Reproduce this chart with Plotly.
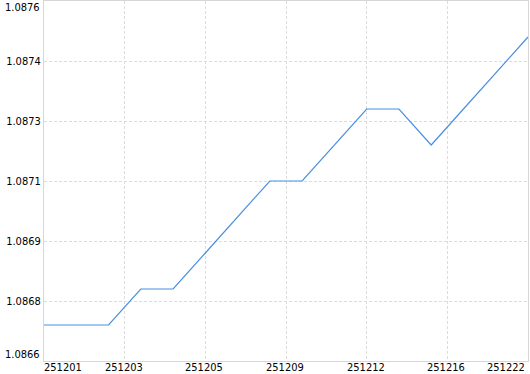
import plotly.graph_objects as go

# Data
point_index = list(range(16))
values = [1.0867, 1.0867, 1.0867, 1.0868, 1.0868, 1.0869, 1.0870, 1.0871,
          1.0871, 1.0872, 1.0873, 1.0873, 1.0872, 1.0873, 1.0874, 1.0875]
x_tick_pos = [0, 2.5, 5, 7.5, 10, 12.5, 15]
x_tick_labels = ["251201", "251203", "251205", "251209", "251212", "251216", "251222"]
y_min, y_max = 1.0866, 1.0876
y_tick_vals = [y_min + k * (y_max - y_min) / 6 for k in range(7)]
y_tick_labels = ["%.4f" % v for v in y_tick_vals]

font = dict(family="DejaVu Sans Condensed, DejaVu Sans, sans-serif", size=11, color="#000000")

fig = go.Figure()
fig.add_trace(go.Scatter(x=point_index, y=values, mode="lines",
                         line=dict(color="#4a8fe0", width=1.2), hoverinfo="skip"))

# y: middle labels via ticks, end labels via annotations (aligned inward)
yt = [t if 0 < i < len(y_tick_labels) - 1 else "" for i, t in enumerate(y_tick_labels)]

fig.update_layout(
    width=530, height=374,
    margin=dict(l=44, r=2, t=1, b=13, autoexpand=False),
    paper_bgcolor="white", plot_bgcolor="white",
    showlegend=False,
    font=font,
    xaxis=dict(range=[0, 15], tickmode="array", tickvals=x_tick_pos,
               ticktext=[""] * len(x_tick_pos),
               showgrid=True, gridcolor="#dcdcdc", griddash="3px,2px", gridwidth=1,
               showline=True, linecolor="#d6d6d6", linewidth=1, mirror=True,
               zeroline=False, ticks="", tickfont=font, fixedrange=True,
               automargin=False),
    yaxis=dict(range=[y_min, y_max], tickmode="array", tickvals=y_tick_vals, ticktext=yt,
               showgrid=True, gridcolor="#dcdcdc", griddash="3px,2px", gridwidth=1,
               showline=True, linecolor="#d6d6d6", linewidth=1, mirror=True,
               zeroline=False, ticks="", tickfont=font, fixedrange=True,
               automargin=False),
)

anns = []
n = len(x_tick_labels)
for i, (pos, lab) in enumerate(zip(x_tick_pos, x_tick_labels)):
    if i == 0:
        xa, xs = "left", 0
    elif i == n - 1:
        xa, xs = "right", -3
    else:
        xa, xs = "center", -1
    anns.append(dict(x=pos, y=0, xref="x", yref="paper", text=lab, xanchor=xa,
                     yanchor="bottom", xshift=xs, yshift=-13))
anns += [
    dict(x=0, y=1, xref="paper", yref="paper", text=y_tick_labels[-1], xanchor="right",
         yanchor="top", xshift=-4, yshift=0),
    dict(x=0, y=0, xref="paper", yref="paper", text=y_tick_labels[0], xanchor="right",
         yanchor="bottom", xshift=-4, yshift=0),
]
for a in anns:
    a.update(showarrow=False, font=font, borderpad=0, borderwidth=0)
fig.update_layout(annotations=anns)

fig.write_html("out.html", config={"displayModeBar": False})
